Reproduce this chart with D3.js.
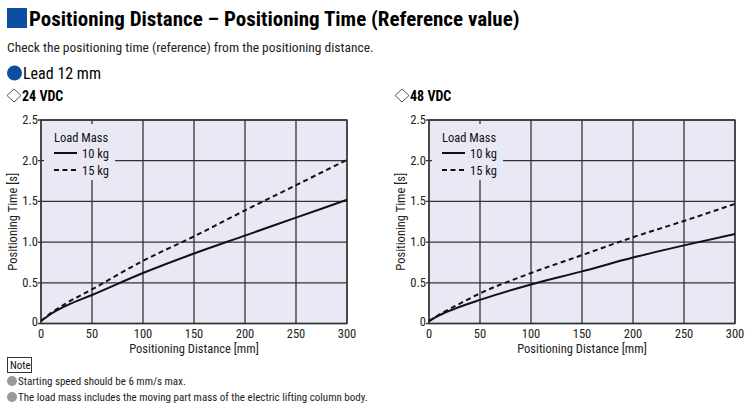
<!DOCTYPE html>
<html><head><meta charset="utf-8">
<script src="https://cdn.jsdelivr.net/npm/d3@7"></script>
<style>
body{margin:0;background:#fff;}
svg{display:block;font-family:"Liberation Sans Narrow","Arial Narrow","Roboto Condensed","Liberation Sans",sans-serif;}
</style></head>
<body><svg id="c" width="750" height="410"></svg>
<script>
const distances = [0, 10, 25, 50, 100, 150, 200, 250, 300];
const v24_10kg = [0.03, 0.12, 0.22, 0.35, 0.62, 0.86, 1.08, 1.30, 1.52];
const v24_15kg = [0.03, 0.13, 0.25, 0.42, 0.77, 1.07, 1.39, 1.70, 2.01];
const v48_10kg = [0.03, 0.10, 0.18, 0.29, 0.48, 0.64, 0.81, 0.96, 1.10];
const v48_15kg = [0.03, 0.11, 0.21, 0.37, 0.62, 0.84, 1.06, 1.26, 1.47];
const xTicks = [0, 50, 100, 150, 200, 250, 300];
const yTicks = [0, 0.5, 1.0, 1.5, 2.0, 2.5];
const seriesNames = ["10 kg", "15 kg"];

const svg = d3.select("#c");
const blue = "#0b4ea2";

// Header
svg.append("rect").attr("x", 7).attr("y", 8).attr("width", 20).attr("height", 20).attr("fill", blue);
svg.append("text").attr("x", 29).attr("y", 26).attr("font-size", 21).attr("font-weight", "bold")
  .attr("fill", "#000").text("Positioning Distance – Positioning Time (Reference value)");
svg.append("text").attr("x", 7).attr("y", 52).attr("font-size", 13.5).attr("fill", "#222")
  .text("Check the positioning time (reference) from the positioning distance.");
svg.append("circle").attr("cx", 14.5).attr("cy", 73).attr("r", 7.5).attr("fill", blue);
svg.append("text").attr("x", 23).attr("y", 79).attr("font-size", 16).attr("fill", "#000").text("Lead 12 mm");

function panel(x0, title, s10, s15) {
  const left = x0 + 41, right = x0 + 347, top = 120, bottom = 323.5;
  const dx = x0 + 14, dy = 95.5;
  svg.append("path").attr("d", `M${dx - 7},${dy} L${dx},${dy - 6.5} L${dx + 7},${dy} L${dx},${dy + 6.5} Z`)
    .attr("fill", "none").attr("stroke", "#555").attr("stroke-width", 1);
  svg.append("text").attr("x", x0 + 22).attr("y", 100.5).attr("font-size", 14).attr("font-weight", "bold")
    .attr("fill", "#000").text(title);
  const x = d3.scaleLinear().domain([0, 300]).range([left, right]);
  const y = d3.scaleLinear().domain([0, 2.5]).range([bottom, top]);
  const g = svg.append("g");
  g.append("rect").attr("x", left).attr("y", top).attr("width", right - left).attr("height", bottom - top)
    .attr("fill", "#e9e9f5");
  // grid
  g.selectAll(".vg").data(xTicks).enter().append("line")
    .attr("x1", d => x(d)).attr("x2", d => x(d)).attr("y1", top).attr("y2", bottom)
    .attr("stroke", "#333").attr("stroke-width", 1.3);
  g.selectAll(".hg").data(yTicks).enter().append("line")
    .attr("x1", left - 3).attr("x2", right).attr("y1", d => y(d)).attr("y2", d => y(d))
    .attr("stroke", "#333").attr("stroke-width", 1.3);
  // legend box (covers grid)
  g.append("rect").attr("x", left + 3).attr("y", top + 4).attr("width", 71).attr("height", 56).attr("fill", "#e9e9f5");
  g.append("text").attr("x", left + 13).attr("y", top + 22).attr("font-size", 12.5).attr("fill", "#111").text("Load Mass");
  seriesNames.forEach((n, i) => {
    const yy = top + 33 + i * 17;
    g.append("line").attr("x1", left + 13).attr("x2", left + 36).attr("y1", yy).attr("y2", yy)
      .attr("stroke", "#111").attr("stroke-width", 2).attr("stroke-dasharray", i ? "5,3.5" : null);
    g.append("text").attr("x", left + 41).attr("y", yy + 5).attr("font-size", 12.5).attr("fill", "#111").text(n);
  });
  // border
  g.append("rect").attr("x", left).attr("y", top).attr("width", right - left).attr("height", bottom - top)
    .attr("fill", "none").attr("stroke", "#333").attr("stroke-width", 1.3);
  // lines
  const line = d3.line().x((d, i) => x(distances[i])).y(d => y(d)).curve(d3.curveMonotoneX);
  g.append("path").attr("d", line(s10)).attr("fill", "none").attr("stroke", "#111").attr("stroke-width", 2);
  g.append("path").attr("d", line(s15)).attr("fill", "none").attr("stroke", "#111").attr("stroke-width", 2)
    .attr("stroke-dasharray", "5,3.5");
  // tick labels
  g.selectAll(".xl").data(xTicks).enter().append("text")
    .attr("x", d => x(d)).attr("y", bottom + 14).attr("text-anchor", "middle")
    .attr("font-size", 12.5).attr("fill", "#222").text(d => d);
  g.selectAll(".yl").data(yTicks).enter().append("text")
    .attr("x", left - 3).attr("y", d => y(d) + (d === 0 ? 2 : 4)).attr("text-anchor", "end")
    .attr("font-size", 12.5).attr("fill", "#222").text(d => d === 0 ? "0" : d.toFixed(1));
  g.append("text").attr("x", (left + right) / 2).attr("y", bottom + 29).attr("text-anchor", "middle")
    .attr("font-size", 12.5).attr("fill", "#222").text("Positioning Distance [mm]");
  g.append("text").attr("transform", `translate(${x0 + 17},${(top + bottom) / 2}) rotate(-90)`)
    .attr("text-anchor", "middle").attr("font-size", 12.5).attr("fill", "#222").text("Positioning Time [s]");
}
panel(0, "24 VDC", v24_10kg, v24_15kg);
panel(388, "48 VDC", v48_10kg, v48_15kg);

// Notes
svg.append("rect").attr("x", 7.5).attr("y", 357.5).attr("width", 24).attr("height", 15).attr("fill", "none")
  .attr("stroke", "#333").attr("stroke-width", 1);
svg.append("text").attr("x", 10).attr("y", 369).attr("font-size", 11).attr("fill", "#111").text("Note");
const notes = ["Starting speed should be 6 mm/s max.",
  "The load mass includes the moving part mass of the electric lifting column body."];
notes.forEach((t, i) => {
  const yy = 385 + i * 16;
  svg.append("circle").attr("cx", 12).attr("cy", yy - 4).attr("r", 5).attr("fill", "#999");
  svg.append("text").attr("x", 18).attr("y", yy).attr("font-size", 11).attr("fill", "#222").text(t);
});
</script></body></html>
